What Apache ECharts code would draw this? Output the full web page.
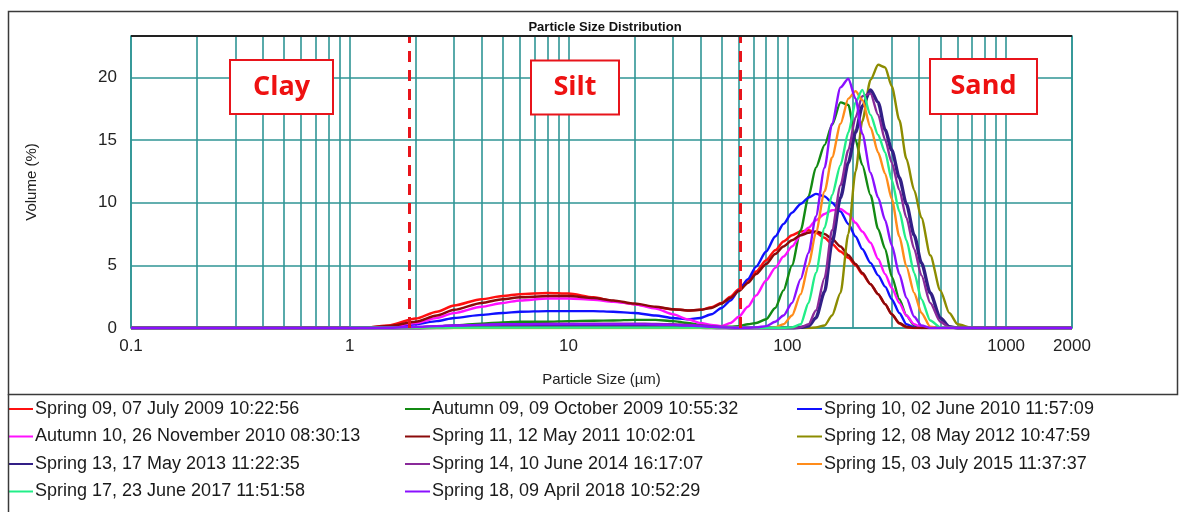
<!DOCTYPE html>
<html>
<head>
<meta charset="utf-8">
<script src="https://cdn.jsdelivr.net/npm/echarts@6/dist/echarts.min.js"></script>
<style>html,body{margin:0;padding:0;background:#fff;}#c{width:1186px;height:512px;}</style>
</head>
<body>
<div id="c"></div>
<script>
// Particle sizes (µm) at which the curves are sampled
const sizes = [0.1,1,1.2,1.5,2,2.5,3,4,5,6,8,
  10,13,16,20,25,30,35,40,45,50,55,60,
  66,72,80,88,96,105,115,125,135,148,160,175,
  190,205,220,240,260,280,300,325,350,380,410,450,500,550,600,700,2000];

const seriesNames = [
  "Spring 09, 07 July 2009 10:22:56",
  "Autumn 09, 09 October 2009 10:55:32",
  "Spring 10, 02 June 2010 11:57:09",
  "Autumn 10, 26 November 2010 08:30:13",
  "Spring 11, 12 May 2011 10:02:01",
  "Spring 12, 08 May 2012 10:47:59",
  "Spring 13, 17 May 2013 11:22:35",
  "Spring 14, 10 June 2014 16:17:07",
  "Spring 15, 03 July 2015 11:37:37",
  "Spring 17, 23 June 2017 11:51:58",
  "Spring 18, 09 April 2018 10:52:29"
];

// Volume (%) values
const spring09 = [0,0,0.05,0.2,0.75,1.3,1.8,2.3,2.55,2.7,2.8,
  2.75,2.45,2.15,1.9,1.65,1.5,1.4,1.45,1.65,2.0,2.5,3.1,
  3.8,4.5,5.4,6.2,6.9,7.4,7.7,7.8,7.6,7.2,6.7,6.1,
  5.6,5.0,4.3,3.5,2.7,1.9,1.1,0.35,0.05,0,0,0,0,0,0,0,0];
const autumn09 = [0,0,0,0,0.05,0.12,0.2,0.35,0.45,0.5,0.5,
  0.55,0.58,0.6,0.65,0.65,0.55,0.4,0.25,0.15,0.1,0.1,0.15,
  0.3,0.4,0.7,1.6,3.0,5.0,7.8,10.5,12.8,14.6,16.2,18.0,
  17.8,15.0,13.0,10.6,7.9,6.3,4.1,2.3,1.0,0.2,0,0,0,0,0,0,0];
const spring10 = [0,0,0,0.05,0.3,0.55,0.8,1.05,1.2,1.3,1.35,
  1.35,1.35,1.3,1.2,1.0,0.8,0.7,0.8,1.1,1.6,2.2,3.0,
  3.9,4.9,6.1,7.3,8.3,9.2,9.9,10.4,10.7,10.5,10.0,9.3,
  8.3,7.3,6.3,5.2,4.2,3.3,2.3,1.2,0.3,0.05,0,0,0,0,0,0,0];
const autumn10 = [0,0,0.02,0.1,0.4,0.8,1.2,1.7,2.0,2.2,2.35,
  2.35,2.25,2.1,1.9,1.55,1.1,0.7,0.4,0.25,0.15,0.4,0.9,
  1.7,2.6,3.8,4.8,5.7,6.5,7.4,8.0,8.6,9.1,9.4,9.5,
  9.1,8.4,7.7,6.8,5.5,4.3,3.2,2.0,1.0,0.3,0.05,0,0,0,0,0,0];
const spring11 = [0,0,0.05,0.15,0.5,1.0,1.45,2.0,2.3,2.45,2.55,
  2.55,2.4,2.2,1.95,1.7,1.5,1.4,1.45,1.6,1.95,2.4,2.95,
  3.6,4.3,5.1,5.9,6.5,7.0,7.4,7.6,7.7,7.5,7.1,6.5,
  5.8,5.1,4.4,3.5,2.7,1.9,1.1,0.4,0.1,0,0,0,0,0,0,0,0];
const spring12 = [0,0,0,0,0,0,0,0,0,0,0,
  0,0,0,0,0,0,0,0,0,0,0,0,
  0,0,0,0,0,0,0,0,0.05,0.2,1.0,2.8,
  7.5,12.5,16.5,19.8,21.0,20.8,19.3,16.6,13.5,11.0,8.8,5.8,3.0,1.2,0.3,0,0];
const spring13 = [0,0,0,0,0,0.03,0.05,0.08,0.1,0.1,0.1,
  0.1,0.1,0.1,0.1,0.1,0.08,0.06,0.05,0.03,0.02,0,0,
  0,0,0,0,0,0,0.05,0.15,0.8,2.9,6.8,10.4,
  13.2,15.6,17.7,19.0,18.0,15.8,14.2,12.0,9.9,7.4,5.2,2.8,0.8,0.1,0,0,0];
const spring14 = [0,0,0,0,0.05,0.12,0.2,0.25,0.3,0.3,0.35,
  0.35,0.35,0.35,0.35,0.32,0.3,0.25,0.2,0.15,0.1,0.07,0.05,
  0.03,0.02,0,0,0,0,0.05,0.3,1.4,4.0,7.8,11.4,
  14.2,16.8,18.5,18.7,17.0,15.0,13.2,11.0,8.8,6.3,4.2,2.0,0.5,0.05,0,0,0];
const spring15 = [0,0,0,0,0,0,0,0,0,0,0,
  0,0,0,0,0,0,0,0,0,0,0,0,
  0,0,0,0.05,0.3,1.0,2.7,5.0,7.6,10.9,13.6,16.3,
  18.3,18.9,18.2,16.0,14.0,12.3,10.3,7.3,4.9,2.8,1.2,0.1,0,0,0,0,0];
const spring17 = [0,0.02,0.03,0.03,0.03,0.03,0.03,0.03,0.03,0.03,0.03,
  0.03,0.03,0.03,0.03,0.03,0.03,0.03,0.03,0.03,0.03,0.03,0.03,
  0.03,0.03,0.02,0.02,0.02,0.05,0.3,2.0,4.4,8.0,10.6,13.0,
  15.6,18.0,19.0,17.0,15.4,14.0,11.8,9.3,7.0,4.4,2.3,0.6,0.05,0,0,0,0];
const spring18 = [0,0,0,0.02,0.1,0.15,0.2,0.25,0.3,0.3,0.3,
  0.3,0.3,0.3,0.3,0.28,0.25,0.2,0.15,0.1,0.05,0.03,0.02,
  0.02,0.05,0.15,0.5,1.0,2.0,3.9,6.0,8.9,12.8,16.3,19.2,
  19.9,18.3,15.5,12.4,10.4,8.6,6.6,4.3,2.4,0.9,0.2,0,0,0,0,0,0];

const seriesValues = [spring09, autumn09, spring10, autumn10, spring11, spring12,
  spring13, spring14, spring15, spring17, spring18];

// Clay / Silt / Sand boundaries (µm) and region labels
const boundaries = [1.87, 61];
const regionLabels = ["Clay", "Silt", "Sand"];

// ---- styles ----
const colors = ['#ff1010','#138a13','#1010ff','#ff10ff','#8b0a0a','#8c8c00',
  '#321f86','#8a2a9a','#ff8c1a','#22ee88','#8a10ff'];
const widths = [2.5,2.4,2.4,2.4,2.5,2.4,3.4,2.4,2.4,2.4,2.4];
const teal = '#2f9595';
const fontAxis = '"Liberation Sans", Arial, sans-serif';
const fontLegend = '"Liberation Sans", Arial, sans-serif';

// vertical grid values (log minor lines)
const gridX = [];
for (let d = 0.1; d < 2000; d *= 10) {
  for (let k = 2; k <= 9; k++) { const v = +(d * k).toPrecision(3); if (v < 2000) gridX.push(v); }
}

const chart = echarts.init(document.getElementById('c'), null, {renderer: 'canvas'});

const series = [{
  name: '__grid', type: 'line', data: [[0.1, 0]], symbol: 'none', silent: true,
  lineStyle: {opacity: 0}, z: 1,
  markLine: {
    silent: true, symbol: 'none', z: 1, animation: false,
    label: {show: false},
    lineStyle: {color: teal, width: 1.6, type: 'solid'},
    data: gridX.map(v => ({xAxis: v}))
  }
}];
seriesNames.forEach((n, i) => {
  series.push({
    name: n, type: 'line', symbol: 'none', smooth: 0.25, smoothMonotone: 'x',
    data: sizes.map((s, j) => [s, seriesValues[i][j]]),
    lineStyle: {color: colors[i], width: widths[i]},
    itemStyle: {color: colors[i]},
    z: 3 + i, animation: false
  });
});
series.push({
  name: '__bounds', type: 'line', data: [[0.1, 0]], symbol: 'none', silent: true,
  lineStyle: {opacity: 0}, z: 30,
  markLine: {
    silent: true, symbol: 'none', z: 30, animation: false,
    label: {show: false},
    lineStyle: {color: '#e8141b', width: 3, type: [11, 8]},
    data: boundaries.map(v => ({xAxis: v}))
  }
});

const legendCommon = {
  orient: 'vertical', top: 400, padding: 0, itemGap: 9.5,
  itemWidth: 25, itemHeight: 2, icon: 'rect', selectedMode: false,
  textStyle: {fontFamily: fontLegend, fontSize: 18, lineHeight: 18, color: '#1a1a1a', padding: [0,0,0,-3]}
};

function box(cx, cy, w, h, label) {
  return {
    type: 'group', z: 100,
    children: [
      {type: 'rect', shape: {x: cx - w/2, y: cy - h/2, width: w, height: h},
       style: {fill: '#fff', stroke: '#e8141b', lineWidth: 2}, z: 100},
      {type: 'text', x: cx, y: cy, z: 101,
       style: {text: label, fill: '#ee1111', font: 'bold 27px "Open Sans", "Noto Sans", sans-serif',
               textAlign: 'center', textVerticalAlign: 'middle'}}
    ]
  };
}

chart.setOption({
  animation: false,
  backgroundColor: '#fff',
  title: {
    text: 'Particle Size Distribution', left: 600, top: 16, textAlign: 'center',
    textStyle: {fontFamily: fontAxis, fontSize: 13, fontWeight: 'bold', color: '#111'}
  },
  grid: {left: 131, top: 36, right: 114, bottom: 184, show: true, borderColor: teal, borderWidth: 1.6, backgroundColor: '#fff'},
  xAxis: {
    type: 'log', logBase: 10, min: 0.1, max: 2000,
    name: 'Particle Size (µm)', nameLocation: 'middle', nameGap: 44,
    nameTextStyle: {fontFamily: fontAxis, fontSize: 15, color: '#222'},
    axisLine: {show: false}, axisTick: {show: false},
    axisLabel: {fontFamily: fontAxis, fontSize: 17, color: '#222', margin: 10,
      formatter: v => String(+(+v).toPrecision(6))},
    splitLine: {show: true, lineStyle: {color: teal, width: 1.6}}
  },
  yAxis: {
    type: 'value', min: 0, max: 23.3, interval: 5,
    name: 'Volume (%)', nameLocation: 'middle', nameGap: 92, nameRotate: 90,
    nameTextStyle: {fontFamily: fontAxis, fontSize: 15, color: '#222'},
    axisLine: {show: false}, axisTick: {show: false},
    axisLabel: {fontFamily: fontAxis, fontSize: 17, color: '#222', margin: 14, showMaxLabel: false},
    splitLine: {show: true, lineStyle: {color: teal, width: 1.6}}
  },
  legend: [
    Object.assign({left: 8, data: [0,3,6,9].map(i => seriesNames[i])}, legendCommon),
    Object.assign({left: 405, data: [1,4,7,10].map(i => seriesNames[i])}, legendCommon),
    Object.assign({left: 797, data: [2,5,8].map(i => seriesNames[i])}, legendCommon)
  ],
  graphic: [
    {type: 'rect', shape: {x: 8.5, y: 11.5, width: 1169, height: 383}, style: {fill: 'none', stroke: '#3a3a3a', lineWidth: 1.5}, z: 50, silent: true},
    {type: 'line', shape: {x1: 8.5, y1: 394, x2: 8.5, y2: 512}, style: {stroke: '#3a3a3a', lineWidth: 1.5}, z: 50, silent: true},
    {type: 'line', shape: {x1: 131, y1: 36, x2: 1072, y2: 36}, style: {stroke: '#222', lineWidth: 1.8}, z: 50, silent: true},
    box(281.5, 87, 103, 54, regionLabels[0]),
    box(575, 87.5, 88, 54, regionLabels[1]),
    box(983.5, 86.5, 107, 55, regionLabels[2])
  ],
  series: series
});
</script>
</body>
</html>
